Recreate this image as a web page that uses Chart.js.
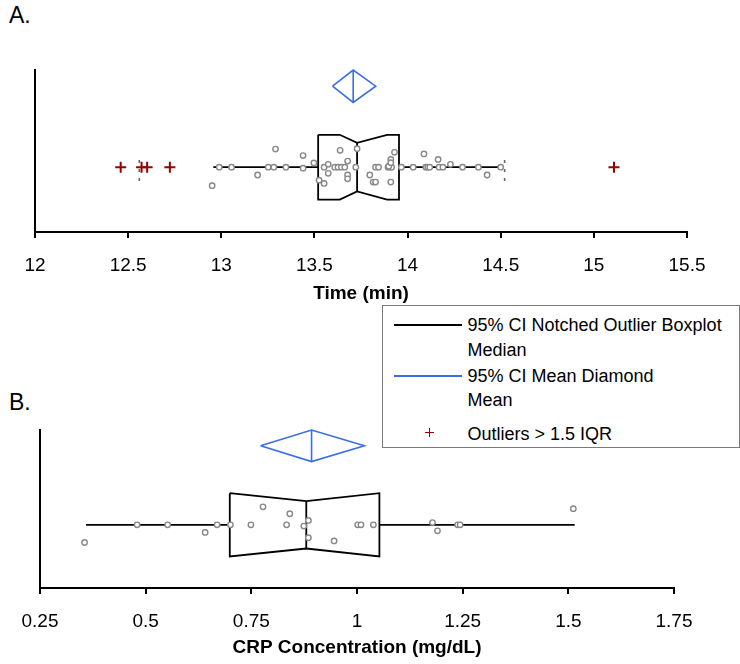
<!DOCTYPE html>
<html>
<head>
<meta charset="utf-8">
<script src="https://cdn.jsdelivr.net/npm/chart.js@4.4.1/dist/chart.umd.min.js"></script>
<style>
html,body{margin:0;padding:0;background:#fff;}
body{width:740px;height:664px;position:relative;overflow:hidden;font-family:'Liberation Sans',Arial,Helvetica,sans-serif;}
#cA{position:absolute;left:0;top:0;}
#cB{position:absolute;left:0;top:310px;}
.panel{position:absolute;font-size:23px;line-height:23px;color:#000;}
#legend{position:absolute;left:382px;top:305px;width:356px;height:141px;border:1px solid #7a7a7a;background:#fff;z-index:5;}
.lt{position:absolute;left:467.5px;font-size:18px;line-height:18px;white-space:nowrap;color:#000;z-index:6;}
.ll{position:absolute;left:394px;width:68px;height:2px;z-index:6;}
.cross{position:absolute;z-index:6;background:#990000;}
</style>
</head>
<body>
<div class="panel" style="left:9px;top:4px;">A.</div>
<div class="panel" style="left:9px;top:391px;">B.</div>
<canvas id="cA" width="740" height="310"></canvas>
<canvas id="cB" width="740" height="354"></canvas>

<div id="legend"></div>
<div class="ll" style="top:324px;background:#000;"></div>
<div class="lt" style="top:316px;">95% CI Notched Outlier Boxplot</div>
<div class="lt" style="top:341px;">Median</div>
<div class="ll" style="top:375px;background:#3a6ee8;"></div>
<div class="lt" style="top:367px;">95% CI Mean Diamond</div>
<div class="lt" style="top:391px;">Mean</div>
<div class="cross" style="left:425px;top:431.5px;width:9px;height:1.6px;"></div>
<div class="cross" style="left:428.7px;top:427.8px;width:1.6px;height:9px;"></div>
<div class="lt" style="top:424.5px;">Outliers &gt; 1.5 IQR</div>

<script>
// ---------- DATA ----------
const timeTickValues = [12, 12.5, 13, 13.5, 14, 14.5, 15, 15.5];
const crpTickValues = [0.25, 0.5, 0.75, 1, 1.25, 1.5, 1.75];
const timeTitle = 'Time (min)';
const crpTitle = 'CRP Concentration (mg/dL)';

// panel A: individual observations (time, vertical jitter)
const timeValues = [12.951, 12.989, 13.055, 13.195, 13.252, 13.282, 13.291, 13.347, 13.439, 13.439,
  13.497, 13.525, 13.552, 13.552, 13.574, 13.574, 13.609, 13.627, 13.645, 13.663,
  13.638, 13.678, 13.678, 13.678, 13.729, 13.722, 13.797, 13.815, 13.828, 13.828,
  13.844, 13.895, 13.904, 13.914, 13.899, 13.910, 13.910, 13.930, 13.910, 13.967,
  14.030, 14.098, 14.108, 14.119, 14.088, 14.164, 14.169, 14.190, 14.230, 14.295,
  14.380, 14.427, 14.500];
const timeJitter = [-0.57, 0, 0, -0.24, 0, 0, 0.56, 0, 0.36, -0.03,
  0.13, -0.40, -0.50, 0, 0.09, -0.19, 0, 0, 0, 0,
  0.52, 0.19, -0.24, -0.36, 0.57, 0, -0.24, -0.46, -0.46, 0,
  0, 0, 0, 0, 0.03, 0.24, 0.14, 0.46, -0.46, 0,
  0, 0, 0, 0, 0.41, 0.24, 0, 0, 0.09, 0,
  0, -0.24, 0];
const timeOutliers = [12.46, 12.572, 12.602, 12.724, 15.108];
// lower whisker, Q1, notch low, median, notch high, Q3, upper whisker
const timeBox = [12.957, 13.52, 13.636, 13.729, 13.89, 13.954, 14.504];
// mean 95% CI: low, mean, high
const timeMeanCI = [13.597, 13.708, 13.829];
const timeFences = [12.56, 14.521];

// panel B
const crpValues = [0.3554, 0.4797, 0.552, 0.6408, 0.669, 0.7005, 0.749, 0.7776, 0.8335, 0.841,
  0.8743, 0.885, 0.885, 0.9458, 1.0017, 1.0094, 1.0387, 1.1786, 1.1904, 1.238,
  1.244, 1.5118];
const crpJitter = [-0.56, 0, 0, -0.24, 0, 0, 0, 0.57, 0, 0.35,
  -0.04, 0.14, -0.41, -0.51, 0, 0, 0, 0.07, -0.19, 0,
  0, 0.51];
const crpOutliers = [];
const crpBox = [0.359, 0.699, 0.699, 0.880, 1.053, 1.053, 1.515];
const crpMeanCI = [0.772, 0.8925, 1.0175];
const crpFences = [];

// ---------- DRAWING ----------
const FONT = "'Liberation Sans', Arial, Helvetica, sans-serif";
const BOX_H = 1, NOTCH_H = 0.75, DIA_Y = 2.5, DIA_H = 0.5;
const BLUE = '#3a6ee8', RED = '#990000', GREY = '#888888';

function lineDs(data, color, width, dash) {
  return {type: 'scatter', data, showLine: true, borderColor: color, borderWidth: width,
    pointRadius: 0, pointHoverRadius: 0, fill: false, tension: 0, clip: false,
    borderDash: dash || [], borderJoinStyle: 'miter', backgroundColor: 'transparent'};
}

function buildDatasets(values, jitter, outliers, box, meanCI, fences) {
  const [wl, q1, nl, md, nh, q3, wh] = box;
  const ds = [];
  ds.push({type: 'scatter', data: values.map((v, i) => ({x: v, y: jitter[i]})),
    pointStyle: 'circle', pointRadius: 2.7, pointBorderWidth: 1.4, pointBorderColor: GREY,
    pointBackgroundColor: '#fff', borderColor: GREY, backgroundColor: '#fff', showLine: false, clip: false});
  ds.push({type: 'scatter', data: outliers.map(v => ({x: v, y: 0})),
    pointStyle: 'cross', pointRadius: 5.5, pointBorderWidth: 2, pointBorderColor: RED,
    borderColor: RED, showLine: false, clip: false});
  ds.push(lineDs([
    {x: q1, y: BOX_H}, {x: nl, y: BOX_H}, {x: md, y: NOTCH_H}, {x: nh, y: BOX_H}, {x: q3, y: BOX_H},
    {x: q3, y: -BOX_H}, {x: nh, y: -BOX_H}, {x: md, y: -NOTCH_H}, {x: nl, y: -BOX_H}, {x: q1, y: -BOX_H},
    {x: q1, y: BOX_H}], '#000', 1.8));
  ds.push(lineDs([{x: md, y: NOTCH_H}, {x: md, y: -NOTCH_H}], '#000', 1.8));
  ds.push(lineDs([{x: wl, y: 0}, {x: q1, y: 0}], '#000', 1.8));
  ds.push(lineDs([{x: q3, y: 0}, {x: wh, y: 0}], '#000', 1.8));
  const [ml, mm, mh] = meanCI;
  ds.push(lineDs([{x: ml, y: DIA_Y}, {x: mm, y: DIA_Y + DIA_H}, {x: mh, y: DIA_Y},
    {x: mm, y: DIA_Y - DIA_H}, {x: ml, y: DIA_Y}], BLUE, 1.6));
  ds.push(lineDs([{x: mm, y: DIA_Y + DIA_H}, {x: mm, y: DIA_Y - DIA_H}], BLUE, 1.6));
  fences.forEach(f => ds.push(lineDs([{x: f, y: 0.22}, {x: f, y: -0.46}], '#666', 1.6, [3, 6])));
  return ds;
}

function makeChart(id, ticks, title, datasets, geom) {
  return new Chart(document.getElementById(id), {
    type: 'scatter',
    data: {datasets},
    options: {
      responsive: false, animation: false, devicePixelRatio: 1,
      layout: {padding: {left: 0, right: geom.right, top: geom.top, bottom: 0}},
      plugins: {legend: {display: false}, tooltip: {enabled: false}, title: {display: false}},
      events: [],
      scales: {
        x: {
          type: 'linear', position: 'bottom',
          min: ticks[0], max: ticks[ticks.length - 1],
          afterBuildTicks: s => { s.ticks = ticks.map(v => ({value: v})); },
          afterFit: s => { s.height = geom.xh; },
          ticks: {font: {family: FONT, size: 19}, color: '#000', padding: 16, maxRotation: 0,
            autoSkip: false, callback: v => String(v)},
          grid: {display: true, drawOnChartArea: false, drawTicks: true, tickLength: 6,
            color: '#000', lineWidth: 2},
          border: {display: true, color: '#000', width: 2},
          title: {display: true, text: title, color: '#000',
            font: {family: FONT, size: 19, weight: 'bold'}, padding: {top: 0, bottom: 4.6}}
        },
        y: {
          type: 'linear', position: 'left', min: -2, max: 3,
          afterFit: s => { s.width = geom.yw; },
          ticks: {display: false},
          grid: {display: true, drawOnChartArea: false, drawTicks: false},
          border: {display: true, color: '#000', width: 2}
        }
      }
    }
  });
}

makeChart('cA', timeTickValues, timeTitle,
  buildDatasets(timeValues, timeJitter, timeOutliers, timeBox, timeMeanCI, timeFences),
  {top: 70, right: 53, xh: 78, yw: 35});
makeChart('cB', crpTickValues, crpTitle,
  buildDatasets(crpValues, crpJitter, crpOutliers, crpBox, crpMeanCI, crpFences),
  {top: 120, right: 66, xh: 76, yw: 40});
</script>
</body>
</html>
